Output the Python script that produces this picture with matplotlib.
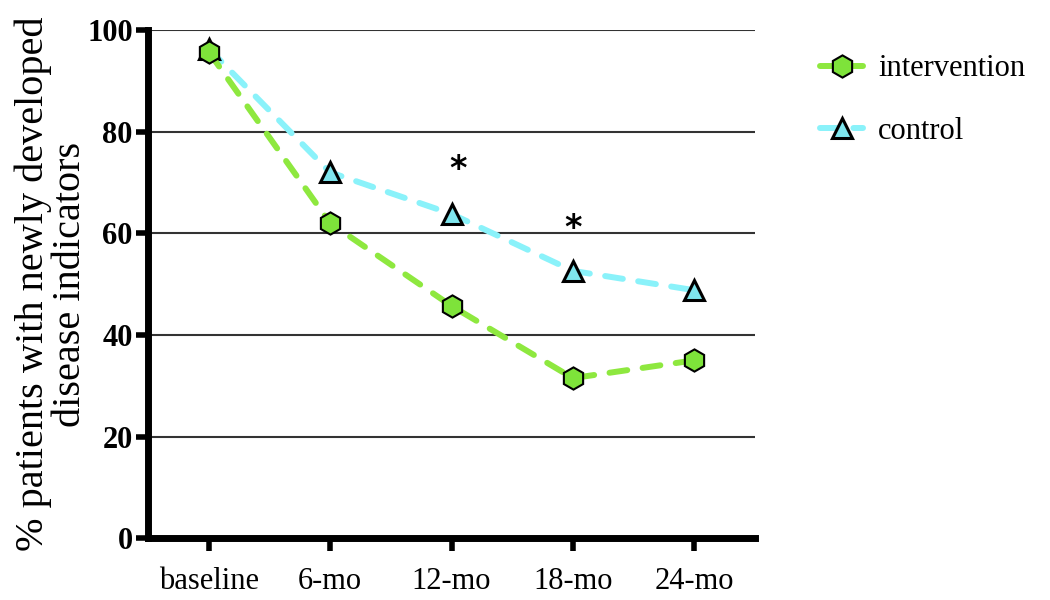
import matplotlib
matplotlib.use("Agg")
import matplotlib.pyplot as plt

categories = ["baseline", "6-mo", "12-mo", "18-mo", "24-mo"]
intervention = [95.7, 62.0, 45.7, 31.5, 35.0]
control = [96.3, 72.0, 63.8, 52.6, 48.8]
sig_positions = [2.05, 3.0]
sig_heights = [72.5, 61.0]
y_ticks = [0, 20, 40, 60, 80, 100]

serif = ["Liberation Serif", "DejaVu Serif"]

fig = plt.figure(figsize=(10.5, 6), dpi=100)
ax = fig.add_axes([0.141, 0.103, 0.578, 0.847])

x = list(range(len(categories)))
green_line = "#8ee83f"
green_face = "#7ee33a"
cyan_line = "#8af2fa"
cyan_face = "#7fe6ee"
dash = (0, (3.0, 2.6))

ax.plot(x, control, linestyle=dash, color=cyan_line, linewidth=4.3,
        dash_capstyle="round", marker="^", markersize=15, markerfacecolor=cyan_face,
        markeredgecolor="black", markeredgewidth=2.2, label="control", zorder=3)
ax.plot(x, intervention, linestyle=dash, color=green_line, linewidth=4.3,
        dash_capstyle="round", marker="h", markersize=16, markerfacecolor=green_face,
        markeredgecolor="black", markeredgewidth=1.5, label="intervention", zorder=4)

for p, h in zip(sig_positions, sig_heights):
    ax.text(p, h, "*", ha="center", va="center", fontsize=24, fontweight="bold",
            family=["DejaVu Sans"])

ax.set_xlim(-0.5, 4.5)
ax.set_ylim(0, 100)
ax.set_xticks(x)
ax.set_xticklabels(categories, family=serif, fontsize=22)
ax.set_yticks(y_ticks)
ax.set_yticklabels([str(v) for v in y_ticks], family=serif, fontsize=22, fontweight="bold")

ax.yaxis.grid(True, color="#333333", linewidth=1.5)
ax.set_axisbelow(True)
for s in ["top", "right"]:
    ax.spines[s].set_visible(False)
for s in ["left", "bottom"]:
    ax.spines[s].set_linewidth(5)
    ax.spines[s].set_color("black")
ax.tick_params(axis="x", direction="out", length=9, width=4, color="black", pad=12)
ax.tick_params(axis="y", direction="out", length=9, width=4, color="black", pad=2)

ax.set_ylabel("% patients with newly developed\ndisease indicators", family=serif,
              fontsize=29, linespacing=1.0)
ax.yaxis.set_label_coords(-0.097, 0.5)

handles, labels = ax.get_legend_handles_labels()
leg = fig.legend(handles[::-1], labels[::-1], loc="upper left", bbox_to_anchor=(0.755, 0.955),
                 frameon=False, prop={"family": serif, "size": 22}, handlelength=1.4,
                 labelspacing=1.1, handletextpad=0.5)

fig.savefig("out.png", dpi=100)
